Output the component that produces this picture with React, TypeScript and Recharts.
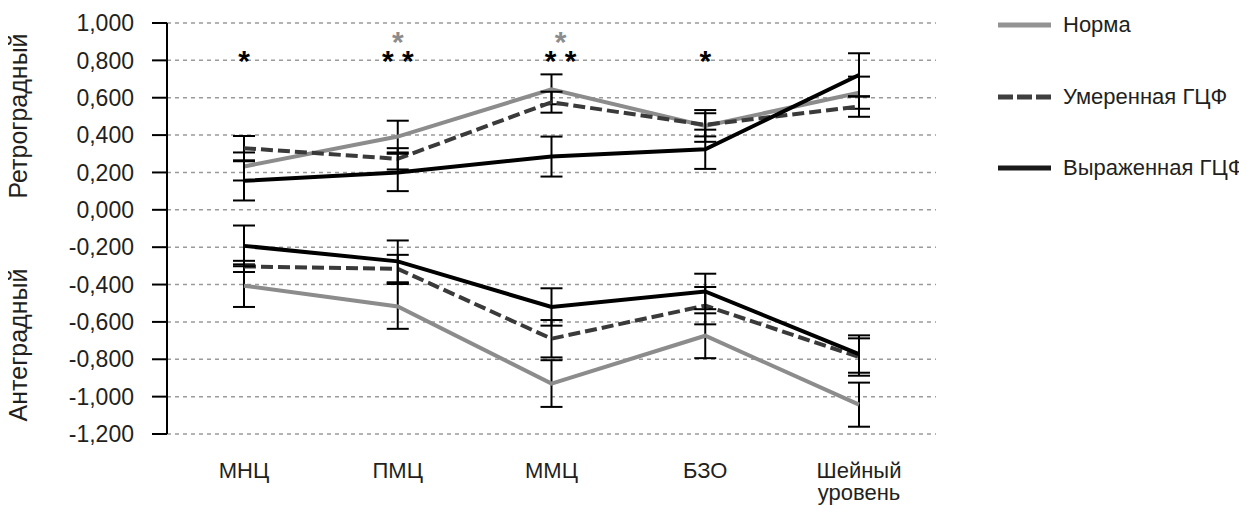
import { CartesianGrid, ErrorBar, Line, LineChart, ReferenceDot, XAxis, YAxis } from "recharts";

const CATEGORIES = ["МНЦ", "ПМЦ", "ММЦ", "БЗО", "Шейный\nуровень"];
const Y_TICKS = [-1.2, -1, -0.8, -0.6, -0.4, -0.2, 0, 0.2, 0.4, 0.6, 0.8, 1];

// ретроградный кровоток (верхняя половина)
const NORMA_RETRO = [0.232, 0.392, 0.645, 0.449, 0.627];
const NORMA_RETRO_ERR = [0.075, 0.085, 0.08, 0.085, 0.086];
const MOD_RETRO = [0.33, 0.273, 0.576, 0.455, 0.553];
const MOD_RETRO_ERR = [0.065, 0.057, 0.056, 0.062, 0.055];
const EXP_RETRO = [0.155, 0.2, 0.285, 0.324, 0.722];
const EXP_RETRO_ERR = [0.105, 0.1, 0.107, 0.105, 0.116];

// антеградный кровоток (нижняя половина)
const NORMA_ANTE = [-0.406, -0.517, -0.93, -0.674, -1.043];
const NORMA_ANTE_ERR = [0.114, 0.12, 0.125, 0.12, 0.118];
const MOD_ANTE = [-0.303, -0.316, -0.69, -0.513, -0.788];
const MOD_ANTE_ERR = [0.03, 0.075, 0.1, 0.1, 0.1];
const EXP_ANTE = [-0.193, -0.276, -0.52, -0.437, -0.772];
const EXP_ANTE_ERR = [0.109, 0.112, 0.1, 0.095, 0.1];

// значимость различий
const SIG_BLACK = ["*", "* *", "* *", "*", ""];
const SIG_GRAY = ["", "*", "*", "", ""];

const SERIES_NAMES = ["Норма", "Умеренная ГЦФ", "Выраженная ГЦФ"];

const DATA = CATEGORIES.map((cat, i) => ({
  cat,
  normaR: NORMA_RETRO[i],
  normaRErr: NORMA_RETRO_ERR[i],
  modR: MOD_RETRO[i],
  modRErr: MOD_RETRO_ERR[i],
  expR: EXP_RETRO[i],
  expRErr: EXP_RETRO_ERR[i],
  normaA: NORMA_ANTE[i],
  normaAErr: NORMA_ANTE_ERR[i],
  modA: MOD_ANTE[i],
  modAErr: MOD_ANTE_ERR[i],
  expA: EXP_ANTE[i],
  expAErr: EXP_ANTE_ERR[i],
}));

const FONT = "'Liberation Sans', Arial, sans-serif";
const TEXT = "#231f20";
const GRAY = "#8c8c8c";
const DARK = "#3a3a3a";
const BLACK = "#000";

const STYLES = [
  { color: GRAY, dash: undefined },
  { color: DARK, dash: "12 5" },
  { color: BLACK, dash: undefined },
];

const fmt = (v: number) => v.toFixed(3).replace(".", ",");

function XTick(props: any) {
  const { x, y, payload } = props;
  const lines = String(payload.value).split("\n");
  return (
    <text x={x} y={y} textAnchor="middle" fill={TEXT} fontSize={22} fontFamily={FONT}>
      {lines.map((l, i) => (
        <tspan key={i} x={x} dy={i === 0 ? 44 : 22}>
          {l}
        </tspan>
      ))}
    </text>
  );
}

// звёздочки: серая строка над чёрной, одним текстом
function starShape(gray: string, black: string, dx: number) {
  return (props: any) => {
    const x = props.cx + dx;
    const y = props.cy + 17;
    return (
      <text x={x} y={y} textAnchor="middle" fontSize={30} fontWeight="bold" fontFamily={FONT}>
        {gray ? (
          <tspan x={x} y={y - 19} fill={GRAY}>
            {gray}
          </tspan>
        ) : null}
        {black ? (
          <tspan x={x} y={y} fill={BLACK}>
            {black}
          </tspan>
        ) : null}
      </text>
    );
  };
}

export default function App() {
  const lines = [
    ["normaR", "normaRErr", 0],
    ["normaA", "normaAErr", 0],
    ["modR", "modRErr", 1],
    ["modA", "modAErr", 1],
    ["expR", "expRErr", 2],
    ["expA", "expAErr", 2],
  ] as const;

  return (
    <div style={{ position: "relative", width: 1231, height: 498, fontFamily: FONT, color: TEXT }}>
      <LineChart width={930} height={498} data={DATA} margin={{ top: 15, right: 2, bottom: 0, left: 0 }}>
        <CartesianGrid vertical={false} strokeDasharray="4 4" stroke="#9a9a9a" strokeWidth={1.5} />
        <XAxis
          dataKey="cat"
          padding={{ left: 77, right: 77 }}
          axisLine={false}
          tickLine={false}
          tickSize={0}
          tickMargin={0}
          height={72}
          interval={0}
          tick={<XTick />}
        />
        <YAxis
          domain={[-1.2, 1]}
          ticks={Y_TICKS}
          interval={0}
          width={159}
          tickFormatter={fmt}
          tickSize={15}
          tickMargin={18}
          axisLine={{ stroke: BLACK, strokeWidth: 2 }}
          tickLine={{ stroke: BLACK, strokeWidth: 2 }}
          tick={{ fill: TEXT, fontSize: 23, fontFamily: FONT }}
        />
        {lines.map(([key, err, s]) => (
          <Line
            key={key}
            dataKey={key}
            type="linear"
            stroke={STYLES[s].color}
            strokeDasharray={STYLES[s].dash}
            strokeWidth={4}
            dot={false}
            activeDot={false}
            isAnimationActive={false}
          >
            <ErrorBar dataKey={err} width={11} stroke={BLACK} strokeWidth={2} direction="y" isAnimationActive={false} />
          </Line>
        ))}
        {CATEGORIES.map((cat, i) =>
          SIG_BLACK[i] || SIG_GRAY[i] ? (
            <ReferenceDot
              key={"s" + i}
              x={cat}
              y={0.835}
              r={0}
              shape={starShape(SIG_GRAY[i], SIG_BLACK[i], i === 2 ? 9 : 0)}
            />
          ) : null,
        )}
      </LineChart>

      {/* подписи оси Y */}
      <div
        style={{
          position: "absolute",
          left: 10,
          top: 108,
          transform: "translate(-50%, -50%) rotate(-90deg)",
          whiteSpace: "nowrap",
          fontSize: 25,
        }}
      >
        Ретроградный
      </div>
      <div
        style={{
          position: "absolute",
          left: 10,
          top: 337,
          transform: "translate(-50%, -50%) rotate(-90deg)",
          whiteSpace: "nowrap",
          fontSize: 25,
        }}
      >
        Антеградный
      </div>

      {/* легенда */}
      {SERIES_NAMES.map((name, i) => (
        <div
          key={name}
          style={{
            position: "absolute",
            left: 990,
            top: [17, 89, 160][i],
            transform: "translateY(-50%)",
            display: "flex",
            alignItems: "center",
            fontSize: 22,
            whiteSpace: "nowrap",
          }}
        >
          <svg width={53} height={6} style={{ marginRight: 12 }}>
            <line
              x1={0}
              x2={53}
              y1={3}
              y2={3}
              stroke={i === 0 ? "#939393" : i === 1 ? "#3f3f3f" : "#1a1a1a"}
              strokeWidth={5}
              strokeDasharray={i === 1 ? "15 4" : undefined}
            />
          </svg>
          {name}
        </div>
      ))}
    </div>
  );
}
